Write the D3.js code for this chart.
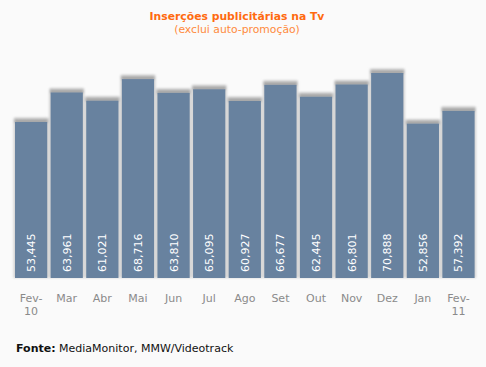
<!DOCTYPE html>
<html>
<head>
<meta charset="utf-8">
<script src="https://cdn.jsdelivr.net/npm/d3@7"></script>
<style>
  html, body { margin: 0; padding: 0; background: #fafafa; }
  svg { display: block; }
</style>
</head>
<body>
<svg id="chart"></svg>
<script>
"use strict";

const months = ['Fev-10', 'Mar', 'Abr', 'Mai', 'Jun', 'Jul', 'Ago', 'Set', 'Out', 'Nov', 'Dez', 'Jan', 'Fev-11'];
const values = [53445, 63961, 61021, 68716, 63810, 65095, 60927, 66677, 62445, 66801, 70888, 52856, 57392];
const titleText = 'Inserções publicitárias na Tv';
const subtitleText = '(exclui auto-promoção)';

const width = 486, height = 367;
const svg = d3.select('#chart').attr('width', width).attr('height', height);
svg.append('rect').attr('width', width).attr('height', height).attr('fill', '#fafafa');

const defs = svg.append('defs');
const blur = defs.append('filter').attr('id', 'soft')
  .attr('x', '-20%').attr('y', '-20%').attr('width', '140%').attr('height', '140%');
blur.append('feGaussianBlur').attr('stdDeviation', 0.9);
const capGrad = defs.append('linearGradient').attr('id', 'cap')
  .attr('x1', 0).attr('y1', 0).attr('x2', 0).attr('y2', 1);
capGrad.append('stop').attr('offset', '0%').attr('stop-color', '#d4d4d4');
capGrad.append('stop').attr('offset', '100%').attr('stop-color', '#8c8c8c');

const bottom = 278;
const x = d3.scaleBand().domain(months).range([15, 474.6]).paddingInner(0.095).paddingOuter(0);
const y = d3.scaleLinear().domain([0, 70888]).range([272, 73]);

const data = months.map((m, i) => ({ m, v: values[i] }));
const fmt = d3.format(',');

// glow / shadow behind bars
const shade = svg.append('g').attr('filter', 'url(#soft)');
shade.selectAll('rect.glow').data(data).enter().append('rect')
  .attr('x', d => x(d.m) - 1.5)
  .attr('y', d => y(d.v) - 4)
  .attr('width', x.bandwidth() + 3)
  .attr('height', d => bottom - y(d.v) + 4)
  .attr('fill', '#d2d2d2');
shade.selectAll('rect.cap').data(data).enter().append('rect')
  .attr('x', d => x(d.m) - 0.5)
  .attr('y', d => y(d.v) - 4.5)
  .attr('width', x.bandwidth() + 1)
  .attr('height', 5)
  .attr('fill', 'url(#cap)');

svg.append('g').selectAll('rect').data(data).enter().append('rect')
  .attr('x', d => x(d.m))
  .attr('y', d => y(d.v))
  .attr('width', x.bandwidth())
  .attr('height', d => bottom - y(d.v))
  .attr('fill', '#68829f');

svg.append('g').selectAll('text').data(data).enter().append('text')
  .attr('transform', d => 'translate(' + (x(d.m) + x.bandwidth() / 2 + 4) + ',272) rotate(-90)')
  .attr('fill', '#ffffff')
  .attr('font-family', "'DejaVu Sans', sans-serif")
  .attr('font-size', '11px')
  .text(d => fmt(d.v));

// x labels
const xl = svg.append('g').selectAll('text').data(data).enter().append('text')
  .attr('x', d => x(d.m) + x.bandwidth() / 2)
  .attr('y', 302)
  .attr('text-anchor', 'middle')
  .attr('fill', '#8a8a8a')
  .attr('font-family', "'DejaVu Sans', sans-serif")
  .attr('font-size', '11px');
xl.each(function (d) {
  const parts = d.m.indexOf('-') > 0 ? [d.m.split('-')[0] + '-', d.m.split('-')[1]] : [d.m];
  const t = d3.select(this);
  parts.forEach((p, i) => {
    t.append('tspan').attr('x', x(d.m) + x.bandwidth() / 2).attr('dy', i === 0 ? 0 : 13).text(p);
  });
});

// title
svg.append('text').attr('x', 237).attr('y', 20).attr('text-anchor', 'middle')
  .attr('fill', '#ff6a10').attr('font-weight', 'bold')
  .attr('font-family', "'DejaVu Sans', sans-serif").attr('font-size', '10.8px')
  .text(titleText);
svg.append('text').attr('x', 237).attr('y', 33).attr('text-anchor', 'middle')
  .attr('fill', '#ff8a3c')
  .attr('font-family', "'DejaVu Sans', sans-serif").attr('font-size', '10.8px')
  .text(subtitleText);

// source
const src = svg.append('text').attr('x', 16).attr('y', 352)
  .attr('fill', '#111').attr('font-family', "'DejaVu Sans', sans-serif").attr('font-size', '11px');
src.append('tspan').attr('font-weight', 'bold').text('Fonte:');
src.append('tspan').text(' MediaMonitor, MMW/Videotrack');
</script>
</body>
</html>
